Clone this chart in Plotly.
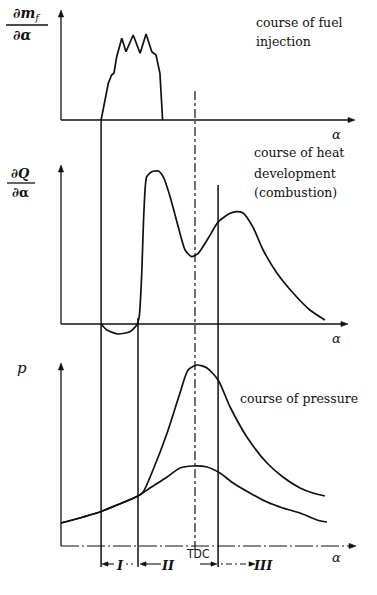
import math
import plotly.graph_objects as go

# ---------------- data (crank angle alpha in deg, TDC = 0; values in arbitrary units) ----------------
fuel_alpha = [-31.3, -30.0, -28.9, -27.8, -27.0, -26.1, -24.4, -23.0, -20.6, -18.3, -16.3, -14.4, -13.0, -11.7, -10.8]
fuel_rate = [0, 20, 36.7, 45, 47, 63.3, 81.7, 68.3, 85, 66.7, 86, 68.3, 65, 47, 0]

heat_alpha = [-31.3, -29.4, -25.6, -21.7, -19.4, -18.6, -17.8, -17.0, -16.1, -14.4, -12.2, -10.6, -8.3, -5.6,
              -3.3, -1.1, 1.1, 4.4, 7.8, 11.7, 13.9, 16.0, 19.3, 22.7, 27.3, 32.7, 38.3, 43.3]
heat_rate = [0, -6, -10, -7.7, -1, 7.3, 47.3, 114, 147.3, 152.3, 153, 147.3, 127.3, 97.3,
             74, 67.3, 70.7, 85.7, 102.3, 110.7, 112.3, 111, 97, 74, 51, 31, 14, 4]

fired_alpha = [-44.7, -37.3, -31.7, -26.0, -19.0, -17.3, -14.0, -9.3, -5.0, -2.3, 0.7, 4.0, 7.7, 11.7,
               17.3, 24.0, 29.3, 35.0, 39.3, 43.3]
fired_p = [23, 29, 34, 41, 50, 54, 76, 113, 153, 176, 181, 178, 166, 139, 109, 83, 69, 58, 53, 50]

motored_alpha = [-44.7, -37.3, -31.7, -26.0, -19.0, -15.0, -9.3, -5.0, -0.7, 4.0, 8.3, 12.7, 18.3, 24.0,
                 29.3, 35.0, 40.7, 44.0]
motored_p = [23, 29, 34, 41, 50, 58, 69, 78, 80, 79, 73, 63, 53, 44, 38, 33, 26, 24]

event_alpha = [-31.3, -19.0, 0.0, 7.7]          # start of injection, ignition, TDC, end of phase II
event_top_px = [120, 318, 88, 185]
event_bottom_px = [567, 567, 550, 567]
event_dash = ["solid", "solid", "dashdot", "solid"]

phase_labels = ["I", "II", "III"]

# ---------------- helpers for layout positions ----------------
W, H = 377, 595
def PX(px):
    return px / W
def PY(py):
    return 1 - py / H

FONT = "DejaVu Serif"
INK = "#111111"

fig = go.Figure()

fig.add_trace(go.Scatter(x=fuel_alpha, y=fuel_rate, mode="lines", yaxis="y",
                         line=dict(color=INK, width=1.7), hoverinfo="skip"))
fig.add_trace(go.Scatter(x=heat_alpha, y=heat_rate, mode="lines", yaxis="y2",
                         line=dict(color=INK, width=1.7, shape="spline", smoothing=0.6), hoverinfo="skip"))
fig.add_trace(go.Scatter(x=fired_alpha, y=fired_p, mode="lines", yaxis="y3",
                         line=dict(color=INK, width=1.7, shape="spline", smoothing=0.7), hoverinfo="skip"))
fig.add_trace(go.Scatter(x=motored_alpha, y=motored_p, mode="lines", yaxis="y3",
                         line=dict(color=INK, width=1.7, shape="spline", smoothing=0.7), hoverinfo="skip"))

shapes = []
for a, t, b, d in zip(event_alpha, event_top_px, event_bottom_px, event_dash):
    shapes.append(dict(type="line", xref="x", yref="paper", x0=a, x1=a, y0=PY(b), y1=PY(t),
                       line=dict(color=INK, width=1.5 if d == "solid" else 1.2, dash=d)))

annotations = []

def seg(x0, y0, x1, y1, width=1.3, dash="solid"):
    shapes.append(dict(type="line", xref="paper", yref="paper", x0=PX(x0), x1=PX(x1), y0=PY(y0), y1=PY(y1),
                       line=dict(color=INK, width=width, dash=dash)))

def arrow(hx, hy, tx, ty, width=1.3, length=7.0, half=2.6, dash="solid"):
    """line from tail (tx,ty) to head (hx,hy) with a filled triangular head; pixel positions"""
    dx, dy = hx - tx, hy - ty
    n = math.hypot(dx, dy)
    ux, uy = dx / n, dy / n
    bx, by = hx - ux * length, hy - uy * length
    seg(tx, ty, bx, by, width, dash)
    p1 = (bx - uy * half, by + ux * half)
    p2 = (bx + uy * half, by - ux * half)
    path = "M {} {} L {} {} L {} {} Z".format(PX(hx), PY(hy), PX(p1[0]), PY(p1[1]), PX(p2[0]), PY(p2[1]))
    shapes.append(dict(type="path", xref="paper", yref="paper", path=path,
                       fillcolor=INK, line=dict(color=INK, width=0.6)))

def text(px, py, s, size=12.5, anchor="left", family=FONT, color=INK):
    annotations.append(dict(x=PX(px), y=PY(py), xref="paper", yref="paper", text=s, showarrow=False,
                            xanchor=anchor, yanchor="middle", font=dict(family=family, size=size, color=color)))

# axes with arrowheads
arrow(355, 120, 61, 120)   # panel 1 x
arrow(61, 10, 61, 120)     # panel 1 y
arrow(348, 324, 61, 324)   # panel 2 x
arrow(61, 165, 61, 324)    # panel 2 y
arrow(356, 546, 61, 546, width=1.2, dash="18px,3px,2px,3px")  # panel 3 x (dash-dot)
arrow(61, 363, 61, 546)    # panel 3 y

# right-hand descriptions
text(254, 23, "course of fuel")
text(254, 42, "injection")
text(252, 153, "course of heat")
text(252, 173, "development")
text(252, 193, "(combustion)")
text(238, 398, "course of pressure")

# alpha labels
for py in (134, 338, 557):
    text(336, py, "<i>α</i>", size=13, anchor="center")

# y labels
text(27, 14, "<b>∂<i>m</i></b><sub><i>f</i></sub>", size=14, anchor="center")
seg(6, 25, 48, 25)
text(22, 35, "<b>∂<i>α</i></b>", size=14, anchor="center")

text(20, 173, "<b>∂<i>Q</i></b>", size=13, anchor="center")
seg(7, 183, 35, 183)
text(20, 193, "<b>∂α</b>", size=13, anchor="center")

text(22, 368, "<i>p</i>", size=15, anchor="center")

# phase markers at bottom
arrow(102, 564, 114, 564, width=1.1, length=6, half=2.2)
text(120, 565, "<b><i>%s</i></b>" % phase_labels[0], size=13, anchor="center")
seg(126, 564, 136, 564, width=1.1, dash="2px,3px")
arrow(140, 564, 161, 564, width=1.1, length=6, half=2.2)
text(168, 565, "<b><i>%s</i></b>" % phase_labels[1], size=13, anchor="center")
text(197, 554, "TDC", size=12, anchor="center", family="DejaVu Sans Condensed")
arrow(217, 564, 200, 564, width=1.1, length=6, half=2.2)
arrow(255, 564, 221, 564, width=1.1, length=6, half=2.2, dash="2px,3px,6px,3px")
text(263, 565, "<b><i>%s</i></b>" % phase_labels[2], size=13, anchor="center")

fig.update_layout(
    width=W, height=H, margin=dict(l=0, r=0, t=0, b=0),
    paper_bgcolor="white", plot_bgcolor="white", showlegend=False,
    xaxis=dict(range=[-65, W / 3 - 65], visible=False, fixedrange=True),
    yaxis=dict(range=[-(H - 120), 120], visible=False, fixedrange=True),
    yaxis2=dict(range=[-(H - 324), 324], visible=False, overlaying="y", fixedrange=True),
    yaxis3=dict(range=[-(H - 546), 546], visible=False, overlaying="y", fixedrange=True),
    shapes=shapes, annotations=annotations,
)

fig.write_html("out.html", config={"displayModeBar": False},
               post_script="document.body.style.margin='0';document.body.style.overflow='hidden';")
